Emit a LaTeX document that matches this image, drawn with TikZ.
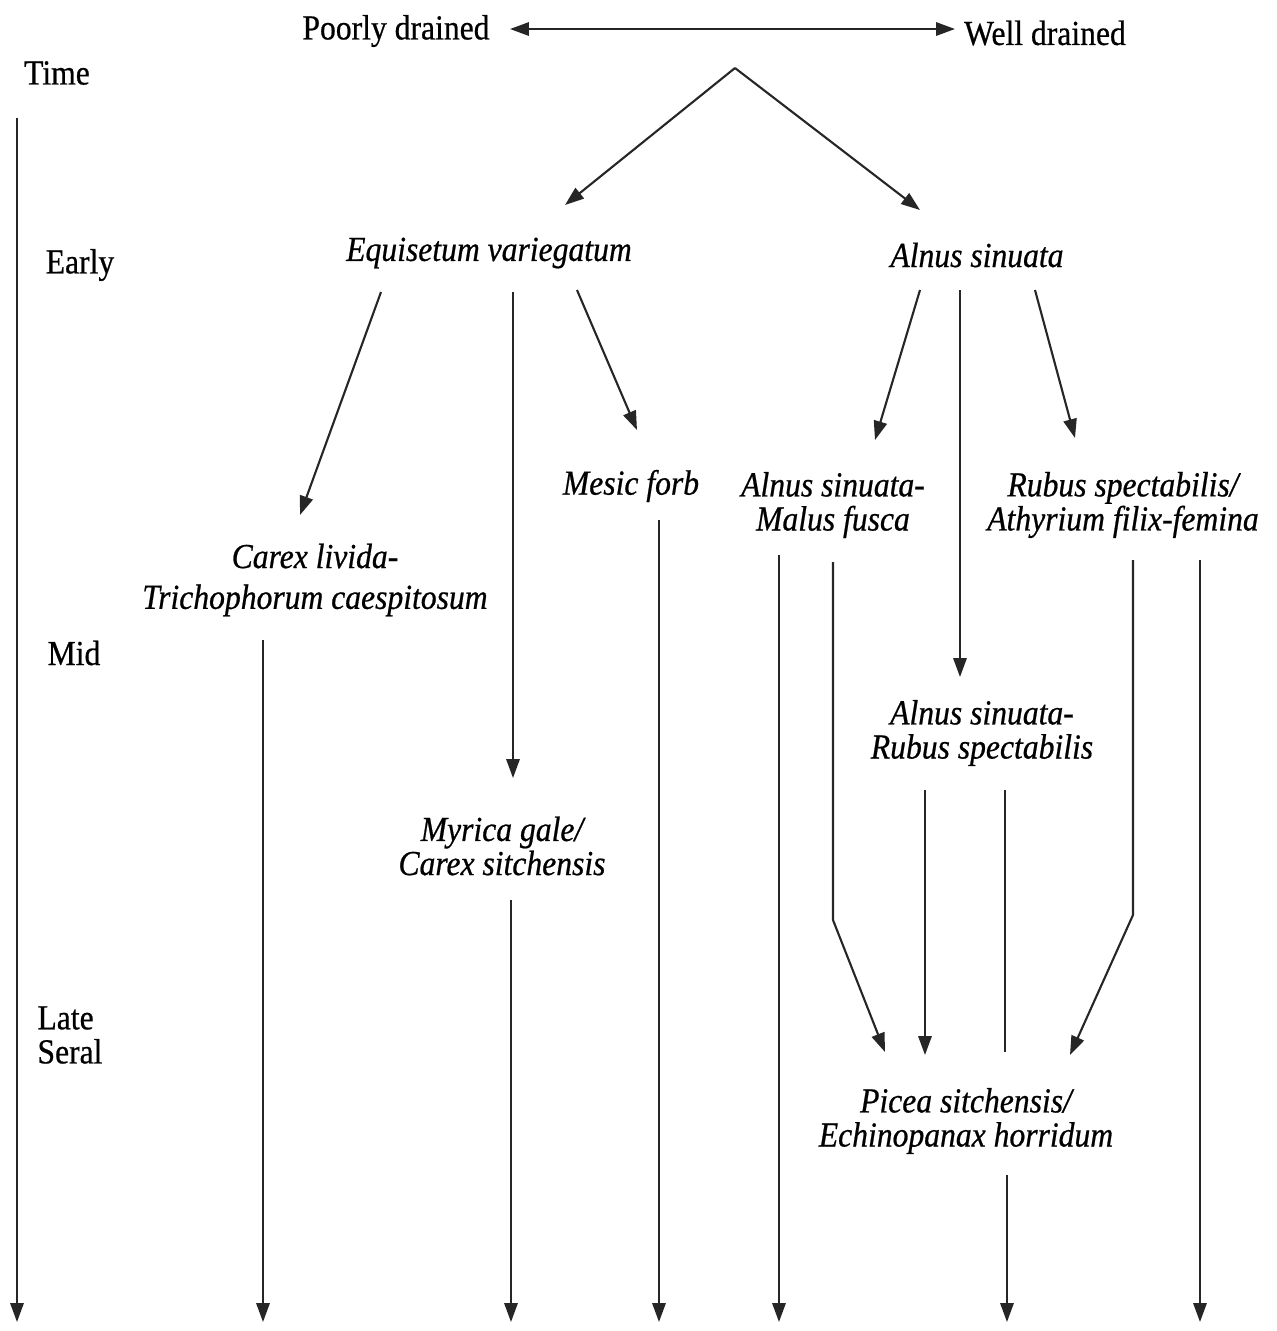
\documentclass[tikz,border=0pt]{standalone}
\usepackage{fontspec}
\setmainfont{Liberation Serif}[FakeStretch=0.9,FakeBold=0.6]
\usetikzlibrary{arrows.meta}
\begin{document}
\begin{tikzpicture}[x=0.1mm,y=-0.1mm,
  lbl/.style={inner sep=0pt,font=\fontsize{10pt}{9.7pt}\selectfont},
  taxon/.style={lbl,align=center,font=\fontsize{10pt}{9.7pt}\selectfont\itshape},
  flow/.style={line width=0.6pt,draw=black!85,-{Triangle[width=3.8pt,length=5.4pt]}},
  plain/.style={line width=0.6pt,draw=black!85}]
\useasboundingbox (0,0) rectangle (1277,1331);

% header: drainage gradient
\node[lbl] (poor) at (396,31) {Poorly drained};
\node[lbl] (well) at (1045,33) {Well drained};
\coordinate (grad-l) at (510,29);
\coordinate (grad-r) at (955,29);
\draw[line width=0.6pt,draw=black!85,{Triangle[width=3.8pt,length=5.4pt]}-{Triangle[width=3.8pt,length=5.4pt]}] (grad-l) -- (grad-r);

% time axis
\node[lbl] (time) at (57,73) {Time};
\node[lbl] (early) at (80,265) {Early};
\node[lbl] (mid) at (74,653) {Mid};
\node[lbl,align=left] (late) at (70,1035) {Late\\Seral};
\coordinate (axis-top) at (17,118);
\coordinate (axis-end) at (17,1322);
\draw[flow] (axis-top) -- (axis-end);

% communities
\node[taxon] (equi) at (489,253) {Equisetum variegatum};
\node[taxon] (alnus) at (977,255) {Alnus sinuata};
\node[taxon] (mesic) at (631,486) {Mesic forb};
\node[taxon,font=\fontsize{10pt}{11.6pt}\selectfont\itshape] (carex) at (315,580) {Carex livida-\\Trichophorum caespitosum};
\node[taxon] (amalus) at (833,505) {Alnus sinuata-\\Malus fusca};
\node[taxon] (rubus) at (1123,505) {Rubus spectabilis/\\Athyrium filix-femina};
\node[taxon] (arubus) at (982,733) {Alnus sinuata-\\Rubus spectabilis};
\node[taxon] (myrica) at (502,846) {Myrica gale/\\Carex sitchensis};
\node[taxon] (picea) at (966,1121) {Picea sitchensis/\\Echinopanax horridum};

% split from the gradient
\coordinate (apex) at (735,68);
\coordinate (equi-in) at (565,205);
\coordinate (alnus-in) at (920,210);
\draw[flow] (apex) -- (equi-in);
\draw[flow] (apex) -- (alnus-in);

% Equisetum branches
\coordinate (equi-o1) at (381,292);
\coordinate (equi-o2) at (513,292);
\coordinate (equi-o3) at (577,290);
\coordinate (carex-in) at (300,515);
\coordinate (myrica-in) at (513,778);
\coordinate (mesic-in) at (637,430);
\draw[flow] (equi-o1) -- (carex-in);
\draw[flow] (equi-o2) -- (myrica-in);
\draw[flow] (equi-o3) -- (mesic-in);

% Alnus branches
\coordinate (alnus-o1) at (920,290);
\coordinate (alnus-o2) at (960,290);
\coordinate (alnus-o3) at (1035,290);
\coordinate (amalus-in) at (875,440);
\coordinate (arubus-in) at (960,677);
\coordinate (rubus-in) at (1075,438);
\draw[flow] (alnus-o1) -- (amalus-in);
\draw[flow] (alnus-o2) -- (arubus-in);
\draw[flow] (alnus-o3) -- (rubus-in);

% paths into Picea
\coordinate (amalus-o2) at (833,562);
\coordinate (amalus-bend) at (833,920);
\coordinate (picea-in1) at (885,1052);
\draw[flow] (amalus-o2) -- (amalus-bend) -- (picea-in1);
\coordinate (arubus-o1) at (925,790);
\coordinate (picea-in2) at (925,1055);
\draw[flow] (arubus-o1) -- (picea-in2);
\coordinate (arubus-o2) at (1005,790);
\coordinate (arubus-stop) at (1005,1052);
\draw[plain] (arubus-o2) -- (arubus-stop);
\coordinate (rubus-o1) at (1133,560);
\coordinate (rubus-bend) at (1133,915);
\coordinate (picea-in3) at (1070,1055);
\draw[flow] (rubus-o1) -- (rubus-bend) -- (picea-in3);

% continuing lines to the end of the time axis
\coordinate (carex-o) at (263,640);
\coordinate (carex-end) at (263,1322);
\draw[flow] (carex-o) -- (carex-end);
\coordinate (myrica-o) at (511,900);
\coordinate (myrica-end) at (511,1322);
\draw[flow] (myrica-o) -- (myrica-end);
\coordinate (mesic-o) at (659,520);
\coordinate (mesic-end) at (659,1322);
\draw[flow] (mesic-o) -- (mesic-end);
\coordinate (amalus-o1) at (779,555);
\coordinate (amalus-end) at (779,1322);
\draw[flow] (amalus-o1) -- (amalus-end);
\coordinate (picea-o) at (1007,1175);
\coordinate (picea-end) at (1007,1322);
\draw[flow] (picea-o) -- (picea-end);
\coordinate (rubus-o2) at (1200,560);
\coordinate (rubus-end) at (1200,1322);
\draw[flow] (rubus-o2) -- (rubus-end);
\end{tikzpicture}
\end{document}
